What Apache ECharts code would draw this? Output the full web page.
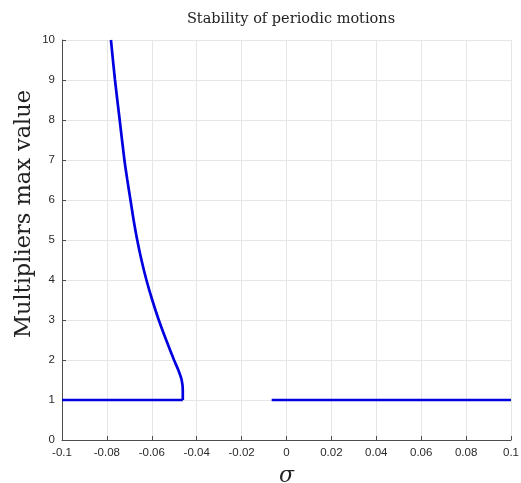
<!DOCTYPE html>
<html><head><meta charset="utf-8">
<script src="https://cdn.jsdelivr.net/npm/echarts@6/dist/echarts.min.js"></script>
<style>html,body{margin:0;padding:0;background:#fff}#c{width:521px;height:483px}</style>
</head><body><div id="c"></div>
<script>
// Branch 1, flat part (sigma, multiplier)
const flat1Sigma = [-0.1, -0.0462];
const flat1Value = [1, 1];
// Branch 1, rising curve
const curveSigma = [-0.0462, -0.0462, -0.0467, -0.0482, -0.0501, -0.0536, -0.0569, -0.0598, -0.0624, -0.0646, -0.0665, -0.0681, -0.0695, -0.0709, -0.0722, -0.0743, -0.0764, -0.0782];
const curveValue = [1, 1.25, 1.5, 1.75, 2, 2.5, 3, 3.5, 4, 4.5, 5, 5.5, 6, 6.5, 7, 8, 9, 10];
// Branch 2, flat part
const flat2Sigma = [-0.0066, 0.1];
const flat2Value = [1, 1];
const xTicks = [-0.1, -0.08, -0.06, -0.04, -0.02, 0, 0.02, 0.04, 0.06, 0.08, 0.1];
const yTicks = [0,1,2,3,4,5,6,7,8,9,10];

const zip = (a,b) => a.map((v,i)=>[v,b[i]]);
const chart = echarts.init(document.getElementById('c'));
const axisCol = '#4d4d4d';
const blue = '#0000e0';
chart.setOption({
  animation:false,
  title:{text:'Stability of periodic motions', left:286, top:7, textAlign:'center',
    textStyle:{fontFamily:'DejaVu Serif', fontWeight:'normal', fontSize:14.5, color:'#222'}},
  grid:{left:62, right:10, top:40, bottom:43, outerBoundsMode:'none', containLabel:false},
  graphic:[{type:'text', x:24, y:214, rotation:Math.PI/2,
    style:{text:'Multipliers max value', fontFamily:'DejaVu Serif', fontSize:22.5, fill:'#222',
      align:'center', verticalAlign:'middle'}}],
  xAxis:{type:'value', min:-0.1, max:0.1, interval:0.02,
    name:'σ', nameLocation:'middle', nameGap:25,
    nameTextStyle:{fontFamily:'DejaVu Serif', fontStyle:'italic', fontSize:22, color:'#222'},
    axisLine:{onZero:false, lineStyle:{color:axisCol}},
    axisTick:{inside:true, length:4, lineStyle:{color:axisCol}},
    axisLabel:{fontFamily:'Liberation Sans', fontSize:11.5, color:'#2a2a2a', margin:7,
      formatter:v=>{const r=Math.round(v*100)/100; return r===0?'0':String(r);}},
    splitLine:{show:true, lineStyle:{color:'#e6e6e6'}}},
  yAxis:{type:'value', min:0, max:10, interval:1,
    axisLine:{show:true, onZero:false, lineStyle:{color:axisCol}},
    axisTick:{show:true, inside:true, length:4, lineStyle:{color:axisCol}},
    axisLabel:{fontFamily:'Liberation Sans', fontSize:11.5, color:'#2a2a2a', margin:7},
    splitLine:{show:true, lineStyle:{color:'#e6e6e6'}}},
  series:[
    {type:'line', data:zip(flat1Sigma,flat1Value), showSymbol:false,
      lineStyle:{color:blue, width:2.7}},
    {type:'line', data:zip(curveSigma,curveValue), smooth:0.3, showSymbol:false,
      lineStyle:{color:blue, width:2.7}},
    {type:'line', data:zip(flat2Sigma,flat2Value), showSymbol:false,
      lineStyle:{color:blue, width:2.7}}
  ]
});
</script></body></html>
